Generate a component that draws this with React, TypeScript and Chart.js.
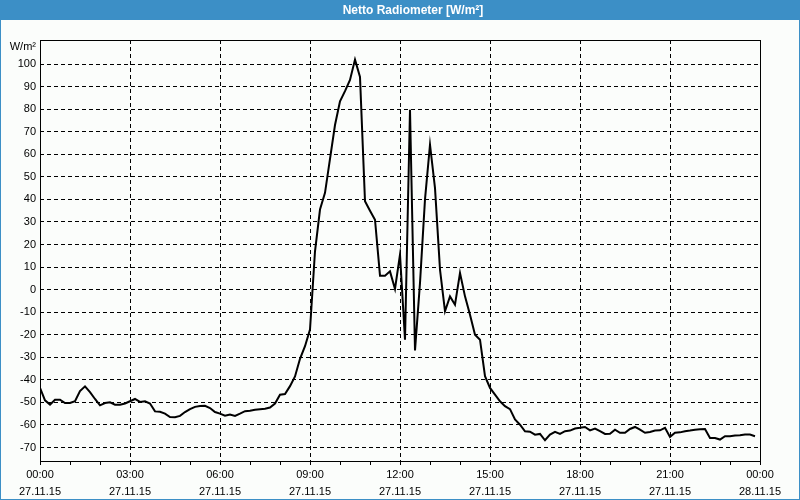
import { useEffect, useRef } from "react";
import { Chart, registerables } from "chart.js";

Chart.register(...registerables);

const TITLE = "Netto Radiometer [W/m²]";
const UNIT = "W/m²";

// time of each sample, minutes after 00:00 on 27.11.15
const minutes = [
  0, 10, 20, 30, 40, 50, 60, 70, 80, 90, 100, 110, 120, 130, 140, 150, 160, 170, 180, 190,
  200, 210, 220, 230, 240, 250, 260, 270, 280, 290, 300, 310, 320, 330, 340, 350, 360, 370, 380, 390,
  400, 410, 420, 430, 440, 450, 460, 470, 480, 490, 500, 510, 520, 530, 540, 550, 560, 570, 580, 590,
  600, 610, 620, 630, 640, 650, 660, 670, 680, 690, 700, 710, 720, 730, 740, 750, 760, 770, 780, 790,
  800, 810, 820, 830, 840, 850, 860, 870, 880, 890, 900, 910, 920, 930, 940, 950, 960, 970, 980, 990,
  1000, 1010, 1020, 1030, 1040, 1050, 1060, 1070, 1080, 1090, 1100, 1110, 1120, 1130, 1140, 1150, 1160, 1170, 1180, 1190,
  1200, 1210, 1220, 1230, 1240, 1250, 1260, 1270, 1280, 1290, 1300, 1310, 1320, 1330, 1340, 1350, 1360, 1370, 1380, 1390,
  1400, 1410, 1420, 1430,
];

// net radiation, W/m²
const values = [
  -43.6, -49.1, -51, -48.8, -48.8, -50.3, -50.3, -49.5, -45, -42.9, -45.5, -48.5, -51.3, -50.3, -50, -51, -51, -50.5, -49.5, -48.5,
  -49.8, -49.5, -50.5, -54, -54.2, -55, -56.5, -56.6, -56, -54.3, -53, -52, -51.6, -51.5, -52.5, -54.3, -55, -55.9, -55.4, -56,
  -55, -53.9, -53.7, -53.3, -53, -52.8, -52.3, -50.5, -46.6, -46.3, -42.8, -38.5, -30.7, -25.1, -17.7, 17, 35.5, 42.9, 58, 73,
  83.5, 88, 93, 102, 94.3, 39.2, 35, 31, 6.2, 6.2, 8.1, 0.3, 15.5, -22.2, 79.8, -27, 3, 40, 64.3, 45,
  8.9, -9.6, -3, -6.7, 7.4, -3, -11.1, -20, -22.2, -38.4, -43.6, -46.6, -49.5, -51.7, -53, -57.6, -59.9, -62.8, -63, -64.3,
  -64, -66.8, -64.3, -63.1, -64, -62.8, -62.5, -61.6, -61.3, -60.9, -62.4, -61.6, -62.8, -64, -63.9, -62.1, -63.5, -63.5, -61.8, -60.9,
  -62.1, -63.5, -63.1, -62.5, -62.4, -61.3, -65.3, -63.5, -63.3, -62.8, -62.5, -62.1, -61.9, -61.8, -65.8, -65.8, -66.5, -65, -65, -64.7,
  -64.6, -64.3, -64.3, -65,
];

const yTicks = [-70, -60, -50, -40, -30, -20, -10, 0, 10, 20, 30, 40, 50, 60, 70, 80, 90, 100];
const yMin = -76;
const yMax = 110.7;

// hourly minor ticks, labelled every 3 hours
const tickHours = [0, 1, 2, 3, 4, 5, 6, 7, 8, 9, 10, 11, 12, 13, 14, 15, 16, 17, 18, 19, 20, 21, 22, 23, 24];
const labelHours = [0, 3, 6, 9, 12, 15, 18, 21, 24];
const labelTimes = ["00:00", "03:00", "06:00", "09:00", "12:00", "15:00", "18:00", "21:00", "00:00"];
const labelDates = ["27.11.15", "27.11.15", "27.11.15", "27.11.15", "27.11.15", "27.11.15", "27.11.15", "27.11.15", "28.11.15"];

const BLUE = "#3c8fc6";
const BG = "#fbfdfb";
const FONT = "'Liberation Sans', Arial, sans-serif";

export default function App() {
  const ref = useRef<HTMLCanvasElement | null>(null);

  useEffect(() => {
    if (!ref.current) return;
    const frame = {
      id: "frame",
      beforeDraw(chart: any) {
        const ctx = chart.ctx;
        ctx.save();
        ctx.fillStyle = BG;
        ctx.fillRect(0, 0, chart.width, chart.height);
        ctx.fillStyle = BLUE;
        ctx.fillRect(0, 0, chart.width, 20);
        ctx.strokeStyle = BLUE;
        ctx.lineWidth = 1;
        ctx.strokeRect(0.5, 0.5, chart.width - 1, chart.height - 1);
        ctx.fillStyle = "#ffffff";
        ctx.font = "bold 12px " + FONT;
        ctx.textAlign = "center";
        ctx.textBaseline = "middle";
        ctx.fillText(TITLE, 413, 10.5);
        ctx.restore();
      },
      afterDraw(chart: any) {
        const ctx = chart.ctx;
        const a = chart.chartArea;
        ctx.save();
        ctx.strokeStyle = "#000";
        ctx.lineWidth = 1;
        ctx.setLineDash([]);
        ctx.strokeRect(a.left + 0.5, a.top + 0.5, a.right - a.left, a.bottom - a.top);
        ctx.fillStyle = "#000";
        ctx.font = "11px " + FONT;
        ctx.textAlign = "right";
        ctx.textBaseline = "middle";
        ctx.fillText(UNIT, 36, 46.5);
        ctx.restore();
      },
    };

    const chart = new Chart(ref.current, {
      type: "line",
      data: {
        datasets: [
          {
            data: minutes.map((m, i) => ({ x: m, y: values[i] })),
            borderColor: "#000",
            borderWidth: 2,
            pointRadius: 0,
            tension: 0,
            fill: false,
          },
        ],
      },
      options: {
        responsive: false,
        animation: false,
        devicePixelRatio: 1,
        layout: { padding: { top: 40, right: 40, left: 0, bottom: 0 } },
        plugins: { legend: { display: false }, tooltip: { enabled: false }, title: { display: false } },
        scales: {
          x: {
            type: "linear",
            min: 0,
            max: 1440,
            afterBuildTicks: (axis: any) => {
              axis.ticks = tickHours.map((h) => ({ value: h * 60 }));
            },
            afterFit: (axis: any) => {
              axis.height = 39;
            },
            ticks: {
              autoSkip: false,
              maxRotation: 0,
              minRotation: 0,
              color: "#000",
              padding: 2,
              font: { family: FONT, size: 11, lineHeight: 1.5 },
              callback: (v: any) => {
                const i = labelHours.indexOf(Number(v) / 60);
                return i >= 0 ? [labelTimes[i], labelDates[i]] : "";
              },
            },
            grid: {
              color: (c: any) => {
                const v = c.tick ? c.tick.value : -1;
                return v % 180 === 0 && v > 0 && v < 1440 ? "#000" : "rgba(0,0,0,0)";
              },
              tickColor: "#000",
              tickLength: 4,
              lineWidth: 1,
            },
            border: { display: false, dash: [4, 3] },
          },
          y: {
            type: "linear",
            min: yMin,
            max: yMax,
            afterBuildTicks: (axis: any) => {
              axis.ticks = yTicks.map((v) => ({ value: v }));
            },
            afterFit: (axis: any) => {
              axis.width = 40;
            },
            ticks: {
              color: "#000",
              padding: 4,
              font: { family: FONT, size: 11 },
              callback: (v: any) => String(v),
            },
            grid: { color: "#000", drawTicks: false, lineWidth: 1 },
            border: { display: false, dash: [4, 3] },
          },
        },
      },
      plugins: [frame],
    } as any);
    return () => chart.destroy();
  }, []);

  return (
    <div style={{ position: "absolute", left: 0, top: 0, width: 800, height: 500 }}>
      <canvas ref={ref} width={800} height={500} style={{ display: "block" }} />
    </div>
  );
}
